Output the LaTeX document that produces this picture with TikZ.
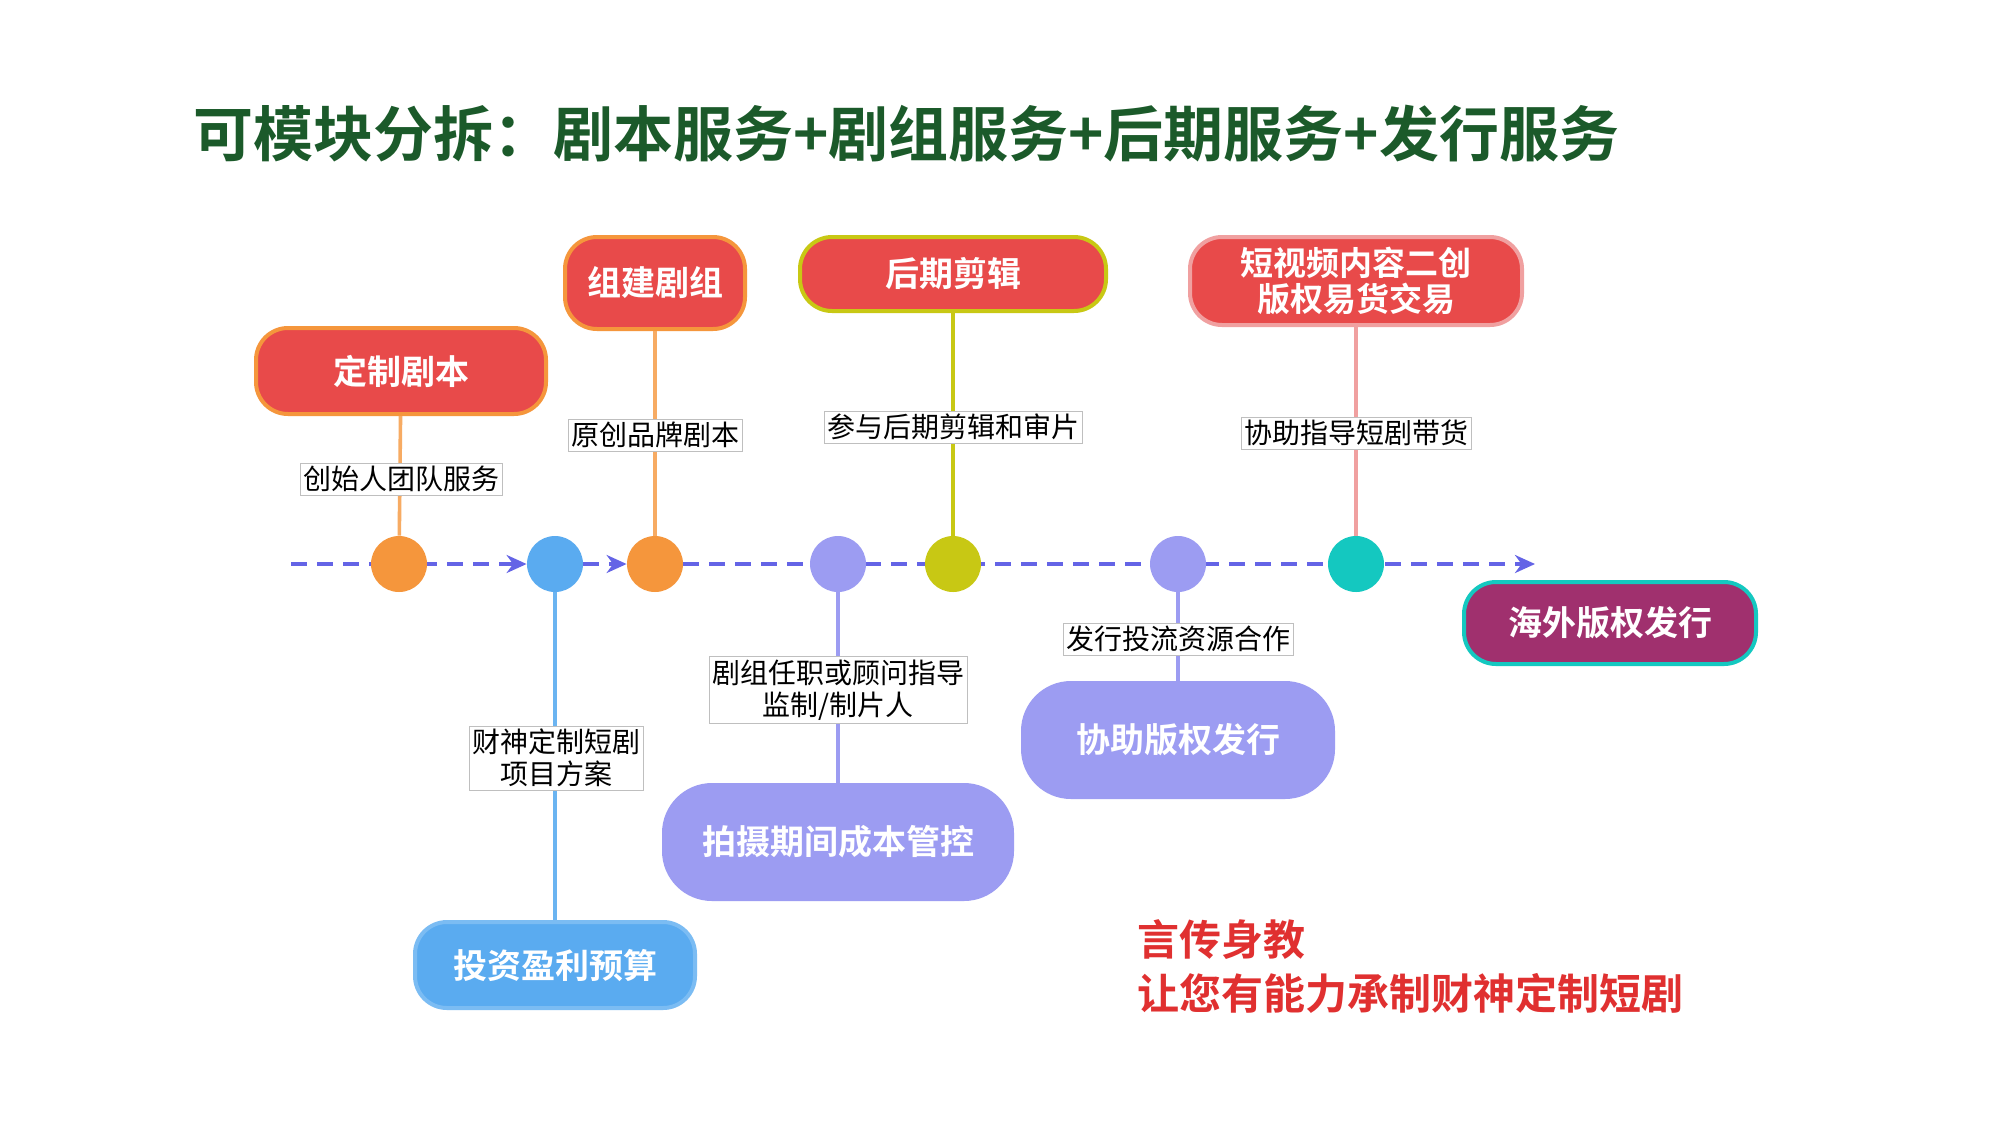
\documentclass[tikz,border=0pt]{standalone}
\usepackage{fontspec}
\setmainfont{Noto Sans CJK SC}[BoldFont={Noto Sans CJK SC Bold}]
\usetikzlibrary{arrows.meta}
\definecolor{tgreen}{HTML}{1B5A2A}
\definecolor{tl}{HTML}{6464E6}
\definecolor{bred}{HTML}{E84A4A}
\definecolor{orng}{HTML}{F5963C}
\definecolor{blu}{HTML}{5AABF0}
\definecolor{lav}{HTML}{9C9CF2}
\definecolor{ylw}{HTML}{C8C814}
\definecolor{pnk}{HTML}{F0A0A0}
\definecolor{teal}{HTML}{14C8C0}
\definecolor{plum}{HTML}{A0306E}
\definecolor{rtxt}{HTML}{E03030}
\begin{document}
\begin{tikzpicture}[x=0.5pt,y=-0.5pt,
  box/.style={rounded corners=16pt,line width=2pt,text=white,font=\fontsize{17}{18}\selectfont\bfseries,align=center,inner sep=0pt},
  dot/.style={circle,minimum size=28pt,inner sep=0pt},
  lab/.style={fill=white,draw=gray!50,line width=0.4pt,font=\fontsize{14}{16}\selectfont,align=center,inner sep=1.5pt},
  conn/.style={line width=1.8pt}]
\useasboundingbox (0,0) rectangle (2000,1125);
\fill[white] (0,0) rectangle (2000,1125);
\node[anchor=west,text=tgreen,font=\fontsize{30}{32}\selectfont\bfseries] (title) at (186,134) {可模块分拆：剧本服务+剧组服务+后期服务+发行服务};
% timeline
\coordinate (ts) at (291,564);
\coordinate (te) at (1535,564);
\node[dot] (c1) at (399,564) {};
\node[dot] (c2) at (555,564) {};
\node[dot] (c3) at (655,564) {};
\node[dot] (c4) at (838,564) {};
\node[dot] (c5) at (953,564) {};
\node[dot] (c6) at (1178,564) {};
\node[dot] (c7) at (1356,564) {};
\draw[tl,line width=1.8pt,dash pattern=on 8pt off 5pt,-{Stealth[length=10pt,width=9pt]}] (ts) -- (c2.west);
\draw[tl,line width=1.8pt,dash pattern=on 8pt off 5pt,-{Stealth[length=10pt,width=9pt]}] (c2.east) -- (c3.west);
\draw[tl,line width=1.8pt,dash pattern=on 8pt off 5pt,-{Stealth[length=10pt,width=9pt]}] (c3) -- (te);
% boxes
\node[box,fill=bred,draw=orng,minimum width=145pt,minimum height=43pt] (b1) at (401,371) {定制剧本};
\node[box,fill=bred,draw=orng,minimum width=90pt,minimum height=46pt] (b2) at (655,283) {组建剧组};
\node[box,fill=bred,draw=ylw,minimum width=153pt,minimum height=37pt] (b3) at (953,274) {后期剪辑};
\node[box,fill=bred,draw=pnk,minimum width=166pt,minimum height=44pt,font=\fontsize{16.5}{18}\selectfont\bfseries] (b4) at (1356,281) {短视频内容二创\\版权易货交易};
\node[box,fill=blu,draw=blu!80,minimum width=140pt,minimum height=43pt] (b5) at (555,965) {投资盈利预算};
\node[box,fill=lav,draw=lav,minimum width=174pt,minimum height=57pt,rounded corners=24pt] (b6) at (838,842) {拍摄期间成本管控};
\node[box,fill=lav,draw=lav,minimum width=155pt,minimum height=57pt,rounded corners=24pt] (b7) at (1178,740) {协助版权发行};
\node[box,fill=plum,draw=teal,minimum width=146pt,minimum height=41pt] (b8) at (1610,623) {海外版权发行};
% connectors
\draw[conn,orng!80] (c1) -- (b1);
\draw[conn,orng!80] (c3) -- (b2);
\draw[conn,ylw] (c5) -- (b3);
\draw[conn,pnk] (c7) -- (b4);
\draw[conn,blu!90] (c2) -- (b5);
\draw[conn,lav] (c4) -- (b6);
\draw[conn,lav] (c6) -- (b7);
% dots on top
\fill[orng] (c1) circle (14pt);
\fill[blu] (c2) circle (14pt);
\fill[orng] (c3) circle (14pt);
\fill[lav] (c4) circle (14pt);
\fill[ylw] (c5) circle (14pt);
\fill[lav] (c6) circle (14pt);
\fill[teal] (c7) circle (14pt);
% labels
\node[lab] (l1) at (401,479) {创始人团队服务};
\node[lab] (l2) at (655,435) {原创品牌剧本};
\node[lab] (l3) at (953,427) {参与后期剪辑和审片};
\node[lab] (l4) at (1356,433) {协助指导短剧带货};
\node[lab] (l5) at (556,758) {财神定制短剧\\项目方案};
\node[lab] (l6) at (838,690) {剧组任职或顾问指导\\监制/制片人};
\node[lab] (l7) at (1178,639) {发行投流资源合作};
% red text
\node[anchor=west,text=rtxt,font=\fontsize{21}{23}\selectfont\bfseries] (r1) at (1130,940) {言传身教};
\node[anchor=west,text=rtxt,font=\fontsize{21}{23}\selectfont\bfseries] (r2) at (1130,993) {让您有能力承制财神定制短剧};
\end{tikzpicture}
\end{document}
